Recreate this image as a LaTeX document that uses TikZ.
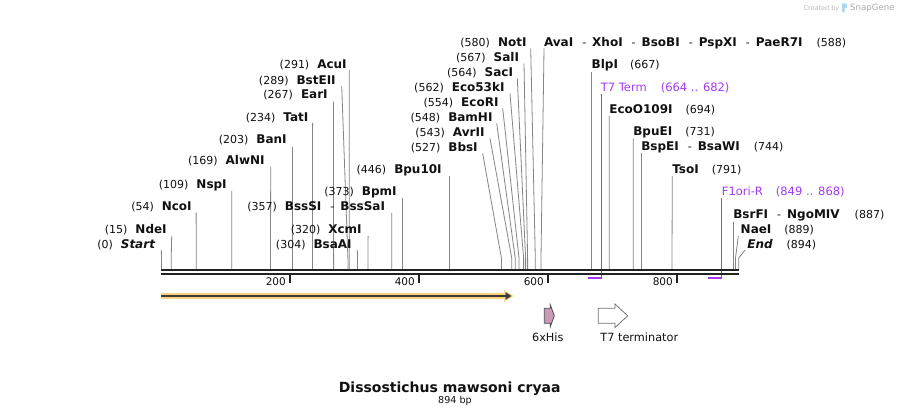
\documentclass[tikz,border=0pt]{standalone}
\usepackage{fontspec}
\setmainfont{DejaVu Sans}
\usetikzlibrary{arrows.meta}
\definecolor{sitec}{HTML}{858585}
\definecolor{bbc}{HTML}{222222}
\definecolor{featc}{HTML}{A33BF0}
\definecolor{orng}{HTML}{FBD07E}
\definecolor{darkarrow}{HTML}{3A3A3A}
\definecolor{hisc}{HTML}{C99BB6}
\definecolor{logoc}{HTML}{BDBDBD}
\definecolor{logoblue}{HTML}{A8D8F2}
\definecolor{txt}{HTML}{111111}
\newcommand{\nm}[1]{{\fontsize{12}{14}\selectfont\bfseries #1}}
\newcommand{\ps}[1]{{\fontsize{11}{13}\selectfont #1}}
\newcommand{\sepd}{\hspace{9pt}\ps{-}\hspace{6pt}}
\newcommand{\cutsite}[8]{%
  \node[lbl, anchor=#2] (#1) at (#4,#5) {#3};
  \coordinate (#1t) at (#6,#7);
  \coordinate (#1b) at (#8,269);
  \draw[sitel] (#1t) -- (#8,258) -- (#1b);
}
\tikzset{
  sitel/.style={draw=sitec, line width=0.8pt},
  lbl/.style={inner sep=0pt, outer sep=0pt, text=txt},
  bbline/.style={draw=bbc, line width=2.4pt},
  tickl/.style={draw=bbc, line width=1.6pt},
  ticklbl/.style={inner sep=0pt, anchor=base east, font=\fontsize{10.5}{12}\selectfont, text=txt},
  featline/.style={draw=featc, line width=1pt},
  featbar/.style={draw=featc, line width=1.8pt},
  featlbl/.style={inner sep=0pt, anchor=base west, text=featc, font=\fontsize{11.5}{13}\selectfont},
  flbl/.style={inner sep=0pt, anchor=base, font=\fontsize{11.3}{13}\selectfont, text=txt},
}
\begin{document}
\begin{tikzpicture}[x=1pt,y=-1pt]
\useasboundingbox (0,0) rectangle (901,419);
\fill[white] (0,0) rectangle (901,419);

% left-side cut sites
\cutsite{Start}{base east}{\ps{(0)}\hspace{8pt}\nm{\itshape Start}}{155}{248.3}{161.3}{250}{161.5}
\cutsite{NdeI}{base east}{\ps{(15)}\hspace{8pt}\nm{NdeI}}{166.7}{234}{171.7}{236}{171.2}
\cutsite{NcoI}{base east}{\ps{(54)}\hspace{8pt}\nm{NcoI}}{191.7}{211}{196.1}{212.7}{196.3}
\cutsite{NspI}{base east}{\ps{(109)}\hspace{8pt}\nm{NspI}}{226.7}{189}{231.7}{191}{231.8}
\cutsite{AlwNI}{base east}{\ps{(169)}\hspace{8pt}\nm{AlwNI}}{264.7}{165}{270.7}{166.7}{270.5}
\cutsite{BanI}{base east}{\ps{(203)}\hspace{8pt}\nm{BanI}}{286.7}{144}{292.4}{146.7}{292.4}
\cutsite{TatI}{base east}{\ps{(234)}\hspace{8pt}\nm{TatI}}{308.3}{121.7}{312.6}{123}{312.4}
\cutsite{EarI}{base east}{\ps{(267)}\hspace{8pt}\nm{EarI}}{327.7}{99}{333.4}{101.7}{333.6}
\cutsite{BstEII}{base east}{\ps{(289)}\hspace{8pt}\nm{BstEII}}{335.7}{84.3}{341.7}{86}{347.9}
\cutsite{AcuI}{base east}{\ps{(291)}\hspace{8pt}\nm{AcuI}}{346.7}{68.3}{349.3}{70}{349.2}
\cutsite{BsaAI}{base east}{\ps{(304)}\hspace{8pt}\nm{BsaAI}}{351.7}{248.3}{357.3}{250}{357.5}
\cutsite{XcmI}{base east}{\ps{(320)}\hspace{8pt}\nm{XcmI}}{361.7}{234}{368.1}{236}{368}
\cutsite{BssSI}{base east}{\ps{(357)}\hspace{8pt}\nm{BssSI}\sepd\nm{BssSaI}}{385}{210.7}{391.7}{213}{391.8}
\cutsite{BpmI}{base east}{\ps{(373)}\hspace{8pt}\nm{BpmI}}{396.7}{195.7}{402.2}{198}{402.2}
\cutsite{BpuX}{base east}{\ps{(446)}\hspace{8pt}\nm{Bpu10I}}{441.7}{174}{449.2}{176}{449.2}
% middle cluster
\cutsite{BbsI}{base east}{\ps{(527)}\hspace{8pt}\nm{BbsI}}{477.7}{151.7}{482.7}{153.5}{501.4}
\cutsite{AvrII}{base east}{\ps{(543)}\hspace{8pt}\nm{AvrII}}{484.5}{136.7}{490}{138.5}{511.7}
\cutsite{BamHI}{base east}{\ps{(548)}\hspace{8pt}\nm{BamHI}}{492.5}{121.7}{496.7}{123.5}{515.2}
\cutsite{EcoRI}{base east}{\ps{(554)}\hspace{8pt}\nm{EcoRI}}{498.5}{106.7}{502.7}{108.5}{519}
\cutsite{EcoFT}{base east}{\ps{(562)}\hspace{8pt}\nm{Eco53kI}}{504.5}{91.7}{510}{93.5}{523.6}
\cutsite{SacI}{base east}{\ps{(564)}\hspace{8pt}\nm{SacI}}{513}{76.7}{517.3}{78.5}{525.6}
\cutsite{SalI}{base east}{\ps{(567)}\hspace{8pt}\nm{SalI}}{519}{61.7}{524}{63.5}{527.6}
\cutsite{NotI}{base east}{\ps{(580)}\hspace{8pt}\nm{NotI}}{526.5}{46.7}{530.7}{48.5}{535.3}
% right-side cut sites
\cutsite{AvaI}{base west}{\nm{AvaI}\sepd\nm{XhoI}\sepd\nm{BsoBI}\sepd\nm{PspXI}\sepd\nm{PaeR7I}\hspace{14pt}\ps{(588)}}{544}{46.7}{544}{48.5}{541}
\cutsite{BlpI}{base west}{\nm{BlpI}\hspace{12pt}\ps{(667)}}{591.7}{68.3}{591.7}{71.7}{591.7}
\cutsite{EcoO}{base west}{\nm{EcoO109I}\hspace{13pt}\ps{(694)}}{609.3}{113.3}{609.3}{116}{609.2}
\cutsite{BpuEI}{base west}{\nm{BpuEI}\hspace{13pt}\ps{(731)}}{633.3}{136}{633.3}{138.3}{633.2}
\cutsite{BspEI}{base west}{\nm{BspEI}\sepd\nm{BsaWI}\hspace{14pt}\ps{(744)}}{641.3}{151}{641.3}{153}{641.3}
\cutsite{TsoI}{base west}{\nm{TsoI}\hspace{13pt}\ps{(791)}}{672.3}{174}{672.3}{176}{672}
\cutsite{BsrFI}{base west}{\nm{BsrFI}\sepd\nm{NgoMIV}\hspace{15pt}\ps{(887)}}{733.3}{218.7}{733.7}{221.7}{733.7}
\cutsite{NaeI}{base west}{\nm{NaeI}\hspace{13pt}\ps{(889)}}{740.7}{233.3}{738.3}{236}{735.5}
\cutsite{End}{base west}{\nm{\itshape End}\hspace{14pt}\ps{(894)}}{747.3}{248.3}{745}{250}{738.8}

% features (purple)
\node[featlbl] (T7Term) at (600.7,91.7) {T7 Term\hspace{14pt}(664 .. 682)};
\coordinate (T7Termt) at (601.3,94);
\coordinate (T7Termc) at (601.3,278);
\coordinate (T7Terms) at (588.3,278);
\draw[featline] (T7Termt) -- (T7Termc);
\draw[featbar] ([xshift=0.5pt]T7Termc) -- (T7Terms);
\node[featlbl] (Fori) at (721.7,196) {F1ori-R\hspace{13pt}(849 .. 868)};
\coordinate (Forit) at (721.7,198.3);
\coordinate (Foric) at (721.7,278);
\coordinate (Foris) at (708.3,278);
\draw[featline] (Forit) -- (Foric);
\draw[featbar] ([xshift=0.5pt]Foric) -- (Foris);

% backbone
\coordinate (bbL) at (161,270.2);
\coordinate (bbR) at (739.3,270.2);
\draw[bbline] (bbL) -- (bbR);
\draw[bbline] ([yshift=-3.8pt]bbL) -- ([yshift=-3.8pt]bbR);

% ticks
\foreach \tx/\tl in {289.7/200, 418.7/400, 547.7/600, 676.7/800} {
  \draw[tickl] (\tx,275) -- (\tx,283);
  \node[ticklbl] at (\tx-3.7,286) {\tl};
}

% orange ORF arrow
\coordinate (orfS) at (161,296);
\coordinate (orfE) at (513.5,296);
\draw[orng, line width=6pt] (orfS) -- (506,296);
\fill[orng] (504,290.3) -- (orfE) -- (504,301.7) -- cycle;
\draw[darkarrow, line width=1.8pt, -{Triangle[length=6pt,width=7pt]}] (orfS) -- (511.5,296);

% 6xHis
\draw[draw=black!70, fill=hisc, line width=0.8pt]
  (544.3,308.3) -- (550.2,308.3) -- (550.2,304.5) -- (554.3,315.8) -- (550.2,327) -- (550.2,323.3) -- (544.3,323.3) -- cycle;
\node[flbl] (his) at (547.8,341.5) {6xHis};

% T7 terminator
\draw[draw=black!55, fill=white, line width=0.8pt]
  (598.3,308.3) -- (615,308.3) -- (615,304) -- (627.7,315.8) -- (615,327.5) -- (615,323.3) -- (598.3,323.3) -- cycle;
\node[flbl] (t7t) at (639.3,341.5) {T7 terminator};

% title
\node[inner sep=0pt, anchor=base, font=\fontsize{14}{16}\selectfont\bfseries, text=txt] (title) at (449.7,392.5) {Dissostichus mawsoni cryaa};
\node[inner sep=0pt, anchor=base, font=\fontsize{9.6}{11}\selectfont, text=txt] (bp) at (455,403) {894 bp};

% SnapGene logo
\node[inner sep=0pt, anchor=base west, font=\fontsize{6.5}{8}\selectfont, text=logoc] (created) at (803.3,10.5) {Created by};
\fill[logoblue] (842,3.5) -- (845.5,3.5) to[out=0,in=90] (847.3,6) to[out=-90,in=0] (845.5,8) -- (844.5,8) -- (844.5,12.3) -- (842,12.3) -- cycle;
\node[inner sep=0pt, anchor=base west, font=\fontsize{8.6}{10}\selectfont, text=logoc!90!black] (snapgene) at (850,11) {SnapGene};
\end{tikzpicture}
\end{document}
